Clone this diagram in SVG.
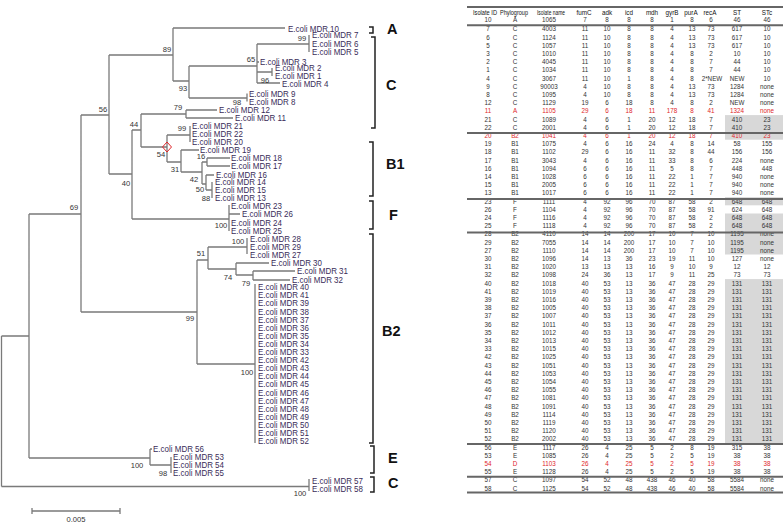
<svg xmlns="http://www.w3.org/2000/svg" width="784" height="523" viewBox="0 0 784 523">
<style>
.br{fill:none;stroke:#7a7a7a;stroke-width:1.3}
.lf{font-family:"Liberation Sans",Arial,sans-serif;font-size:8.8px;fill:#3a2d58}
.bs{font-family:"Liberation Sans",Arial,sans-serif;font-size:7.6px;fill:#333;text-anchor:middle}
.bk{fill:none;stroke:#222;stroke-width:1.5}
.gl{font-family:"Liberation Sans",Arial,sans-serif;font-size:14.5px;font-weight:bold;fill:#111}
.tb text{font-family:"Liberation Sans",Arial,sans-serif;font-size:6.3px;fill:#333;text-anchor:middle}
.tb .hd{fill:#111}
.tb .red{fill:#e0262a}
.rule{stroke:#666;stroke-width:2}
.sh{fill:#d8d8d8}
</style>
<rect width="784" height="523" fill="#fff"/>
<g id="connectors">
<path class="br" d="M1.5 336V486.5M1.5 336H29M1.5 486.5H309M29 214V458M29 214H81M29 458H150M81 115V312M81 115H109M81 312H197M109 55V174M109 55H173M109 174H132M173 28V81M173 28H285M173 81H189M189 66V98M189 66H257M189 98H247M247 93.5V101.5M257 44V83M257 44H309M257 62H259M257 72H272M257 83H280M309 35V52M272 68V76M132 130V219M132 130H141M132 219H229M141 114V147M141 114H186M141 147H167M186 110V118M186 110H217M186 118H233M167 135V162M167 135H190M167 162H181M190 126V142M181 150V172M181 150H199M181 172H202M202 162V184M202 162H207M202 184H206M207 158V166M207 158H230M207 166H230M206 175V190M206 175H214M206 190H212M212 182V198M229 205V231M229 214H240M197 260V364M197 260H208M197 364H255M208 247V269M208 247H247M208 269H236M247 238V254M236 263V275M236 263H269M236 275H253M253 271V280M253 271H295M253 280H290M255 284V443M150 449V465M150 449H152M150 465H171M171 457V473M309 479V491"/>
<polygon points="167,142 171.5,147 167,152 162.5,147" fill="none" stroke="#e0262a" stroke-width="1"/>
</g>
<g id="bootstrap">
<text class="bs" x="74" y="209.8">69</text>
<text class="bs" x="103" y="111.8">56</text>
<text class="bs" x="167" y="51.8">89</text>
<text class="bs" x="183" y="90.8">93</text>
<text class="bs" x="251" y="61.8">65</text>
<text class="bs" x="265" y="82.8">96</text>
<text class="bs" x="302" y="40.8">99</text>
<text class="bs" x="237" y="104.8">98</text>
<text class="bs" x="126" y="185.8">40</text>
<text class="bs" x="134" y="126.8">44</text>
<text class="bs" x="178" y="109.8">79</text>
<text class="bs" x="182" y="130.8">99</text>
<text class="bs" x="161" y="156.8">54</text>
<text class="bs" x="175" y="171.8">31</text>
<text class="bs" x="201" y="158.8">16</text>
<text class="bs" x="194" y="181.8">42</text>
<text class="bs" x="200" y="191.8">50</text>
<text class="bs" x="206" y="200.8">88</text>
<text class="bs" x="221" y="227.8">100</text>
<text class="bs" x="190" y="320.8">99</text>
<text class="bs" x="201" y="255.8">51</text>
<text class="bs" x="238" y="243.8">100</text>
<text class="bs" x="228" y="279.8">74</text>
<text class="bs" x="246" y="285.8">79</text>
<text class="bs" x="247" y="374.8">100</text>
<text class="bs" x="137" y="467.8">100</text>
<text class="bs" x="163" y="475.8">98</text>
<text class="bs" x="300" y="495.8">100</text>
</g>
<g id="leaves">
<g id="mdr10"><text class="lf" x="288" y="31.7" textLength="51" lengthAdjust="spacingAndGlyphs">E.coli MDR 10</text></g>
<g id="mdr7"><text class="lf" x="312" y="38.2" textLength="46.5" lengthAdjust="spacingAndGlyphs">E.coli MDR 7</text></g>
<g id="mdr6"><text class="lf" x="312" y="46.7" textLength="46.5" lengthAdjust="spacingAndGlyphs">E.coli MDR 6</text></g>
<g id="mdr5"><text class="lf" x="312" y="55.2" textLength="46.5" lengthAdjust="spacingAndGlyphs">E.coli MDR 5</text></g>
<g id="mdr3"><text class="lf" x="260" y="64.7" textLength="46.5" lengthAdjust="spacingAndGlyphs">E.coli MDR 3</text></g>
<g id="mdr2"><text class="lf" x="275" y="71.2" textLength="46.5" lengthAdjust="spacingAndGlyphs">E.coli MDR 2</text></g>
<g id="mdr1"><text class="lf" x="275" y="79.2" textLength="46.5" lengthAdjust="spacingAndGlyphs">E.coli MDR 1</text></g>
<g id="mdr4"><text class="lf" x="282" y="87.2" textLength="46.5" lengthAdjust="spacingAndGlyphs">E.coli MDR 4</text></g>
<g id="mdr9"><text class="lf" x="249" y="96.7" textLength="46.5" lengthAdjust="spacingAndGlyphs">E.coli MDR 9</text></g>
<g id="mdr8"><text class="lf" x="249" y="104.7" textLength="46.5" lengthAdjust="spacingAndGlyphs">E.coli MDR 8</text></g>
<g id="mdr12"><text class="lf" x="219" y="112.7" textLength="51" lengthAdjust="spacingAndGlyphs">E.coli MDR 12</text></g>
<g id="mdr11"><text class="lf" x="235" y="120.7" textLength="51" lengthAdjust="spacingAndGlyphs">E.coli MDR 11</text></g>
<g id="mdr21"><text class="lf" x="192" y="129.2" textLength="51" lengthAdjust="spacingAndGlyphs">E.coli MDR 21</text></g>
<g id="mdr22"><text class="lf" x="192" y="137.2" textLength="51" lengthAdjust="spacingAndGlyphs">E.coli MDR 22</text></g>
<g id="mdr20"><text class="lf" x="192" y="145.2" textLength="51" lengthAdjust="spacingAndGlyphs">E.coli MDR 20</text></g>
<g id="mdr19"><text class="lf" x="200" y="152.7" textLength="51" lengthAdjust="spacingAndGlyphs">E.coli MDR 19</text></g>
<g id="mdr18"><text class="lf" x="231" y="161.2" textLength="51" lengthAdjust="spacingAndGlyphs">E.coli MDR 18</text></g>
<g id="mdr17"><text class="lf" x="231" y="169.2" textLength="51" lengthAdjust="spacingAndGlyphs">E.coli MDR 17</text></g>
<g id="mdr16"><text class="lf" x="216" y="177.7" textLength="51" lengthAdjust="spacingAndGlyphs">E.coli MDR 16</text></g>
<g id="mdr14"><text class="lf" x="215" y="185.2" textLength="51" lengthAdjust="spacingAndGlyphs">E.coli MDR 14</text></g>
<g id="mdr15"><text class="lf" x="215" y="193.2" textLength="51" lengthAdjust="spacingAndGlyphs">E.coli MDR 15</text></g>
<g id="mdr13"><text class="lf" x="215" y="201.2" textLength="51" lengthAdjust="spacingAndGlyphs">E.coli MDR 13</text></g>
<g id="mdr23"><text class="lf" x="231" y="209.2" textLength="51" lengthAdjust="spacingAndGlyphs">E.coli MDR 23</text></g>
<g id="mdr26"><text class="lf" x="242" y="217.2" textLength="51" lengthAdjust="spacingAndGlyphs">E.coli MDR 26</text></g>
<g id="mdr24"><text class="lf" x="231" y="225.7" textLength="51" lengthAdjust="spacingAndGlyphs">E.coli MDR 24</text></g>
<g id="mdr25"><text class="lf" x="231" y="234.2" textLength="51" lengthAdjust="spacingAndGlyphs">E.coli MDR 25</text></g>
<g id="mdr28"><text class="lf" x="250" y="241.7" textLength="51" lengthAdjust="spacingAndGlyphs">E.coli MDR 28</text></g>
<g id="mdr29"><text class="lf" x="250" y="249.7" textLength="51" lengthAdjust="spacingAndGlyphs">E.coli MDR 29</text></g>
<g id="mdr27"><text class="lf" x="250" y="257.7" textLength="51" lengthAdjust="spacingAndGlyphs">E.coli MDR 27</text></g>
<g id="mdr30"><text class="lf" x="271" y="265.7" textLength="51" lengthAdjust="spacingAndGlyphs">E.coli MDR 30</text></g>
<g id="mdr31"><text class="lf" x="297" y="274.2" textLength="51" lengthAdjust="spacingAndGlyphs">E.coli MDR 31</text></g>
<g id="mdr32"><text class="lf" x="292" y="282.7" textLength="51" lengthAdjust="spacingAndGlyphs">E.coli MDR 32</text></g>
<g id="mdr40"><text class="lf" x="258" y="290.2" textLength="51" lengthAdjust="spacingAndGlyphs">E.coli MDR 40</text></g>
<g id="mdr41"><text class="lf" x="258" y="298.3" textLength="51" lengthAdjust="spacingAndGlyphs">E.coli MDR 41</text></g>
<g id="mdr39"><text class="lf" x="258" y="306.4" textLength="51" lengthAdjust="spacingAndGlyphs">E.coli MDR 39</text></g>
<g id="mdr38"><text class="lf" x="258" y="314.5" textLength="51" lengthAdjust="spacingAndGlyphs">E.coli MDR 38</text></g>
<g id="mdr37"><text class="lf" x="258" y="322.6" textLength="51" lengthAdjust="spacingAndGlyphs">E.coli MDR 37</text></g>
<g id="mdr36"><text class="lf" x="258" y="330.7" textLength="51" lengthAdjust="spacingAndGlyphs">E.coli MDR 36</text></g>
<g id="mdr35"><text class="lf" x="258" y="338.8" textLength="51" lengthAdjust="spacingAndGlyphs">E.coli MDR 35</text></g>
<g id="mdr34"><text class="lf" x="258" y="346.9" textLength="51" lengthAdjust="spacingAndGlyphs">E.coli MDR 34</text></g>
<g id="mdr33"><text class="lf" x="258" y="355" textLength="51" lengthAdjust="spacingAndGlyphs">E.coli MDR 33</text></g>
<g id="mdr42"><text class="lf" x="258" y="363.1" textLength="51" lengthAdjust="spacingAndGlyphs">E.coli MDR 42</text></g>
<g id="mdr43"><text class="lf" x="258" y="371.2" textLength="51" lengthAdjust="spacingAndGlyphs">E.coli MDR 43</text></g>
<g id="mdr44"><text class="lf" x="258" y="379.3" textLength="51" lengthAdjust="spacingAndGlyphs">E.coli MDR 44</text></g>
<g id="mdr45"><text class="lf" x="258" y="387.4" textLength="51" lengthAdjust="spacingAndGlyphs">E.coli MDR 45</text></g>
<g id="mdr46"><text class="lf" x="258" y="395.5" textLength="51" lengthAdjust="spacingAndGlyphs">E.coli MDR 46</text></g>
<g id="mdr47"><text class="lf" x="258" y="403.6" textLength="51" lengthAdjust="spacingAndGlyphs">E.coli MDR 47</text></g>
<g id="mdr48"><text class="lf" x="258" y="411.7" textLength="51" lengthAdjust="spacingAndGlyphs">E.coli MDR 48</text></g>
<g id="mdr49"><text class="lf" x="258" y="419.8" textLength="51" lengthAdjust="spacingAndGlyphs">E.coli MDR 49</text></g>
<g id="mdr50"><text class="lf" x="258" y="427.9" textLength="51" lengthAdjust="spacingAndGlyphs">E.coli MDR 50</text></g>
<g id="mdr51"><text class="lf" x="258" y="436" textLength="51" lengthAdjust="spacingAndGlyphs">E.coli MDR 51</text></g>
<g id="mdr52"><text class="lf" x="258" y="444.1" textLength="51" lengthAdjust="spacingAndGlyphs">E.coli MDR 52</text></g>
<g id="mdr56"><text class="lf" x="153" y="452.2" textLength="51" lengthAdjust="spacingAndGlyphs">E.coli MDR 56</text></g>
<g id="mdr53"><text class="lf" x="173" y="460.2" textLength="51" lengthAdjust="spacingAndGlyphs">E.coli MDR 53</text></g>
<g id="mdr54"><text class="lf" x="173" y="468.2" textLength="51" lengthAdjust="spacingAndGlyphs">E.coli MDR 54</text></g>
<g id="mdr55"><text class="lf" x="173" y="476.2" textLength="51" lengthAdjust="spacingAndGlyphs">E.coli MDR 55</text></g>
<g id="mdr57"><text class="lf" x="312" y="484.2" textLength="51" lengthAdjust="spacingAndGlyphs">E.coli MDR 57</text></g>
<g id="mdr58"><text class="lf" x="312" y="492.2" textLength="51" lengthAdjust="spacingAndGlyphs">E.coli MDR 58</text></g>
</g>
<g id="groups">
<path class="bk" d="M369 27H373V33H369M371 37H375V128H371M369 142H373V196H369M369 201H373V229H369M369 234H373V443H369M370 446H374V473H370M370 477H374V492H370"/>
<text class="gl" x="387" y="34">A</text>
<text class="gl" x="386" y="90">C</text>
<text class="gl" x="386" y="169">B1</text>
<text class="gl" x="389" y="220">F</text>
<text class="gl" x="382" y="336">B2</text>
<text class="gl" x="388" y="463">E</text>
<text class="gl" x="388" y="488">C</text>
</g>
<g id="scale">
<path class="br" d="M32 511H120M32 508V514M120 508V514"/>
<text class="bs" x="76" y="521.5">0.005</text>
</g>
<g id="table" class="tb">
<rect class="sh" x="725" y="115.1" width="58" height="24.6"/>
<rect class="sh" x="725" y="197.1" width="58" height="8.2"/>
<rect class="sh" x="725" y="213.5" width="58" height="41"/>
<rect class="sh" x="725" y="279.1" width="58" height="164"/>
<text class="hd" x="485" y="14.8" textLength="24" lengthAdjust="spacingAndGlyphs">Isolate ID</text>
<text class="hd" x="514" y="14.8" textLength="28" lengthAdjust="spacingAndGlyphs">Phylogroup</text>
<text class="hd" x="551" y="14.8" textLength="28" lengthAdjust="spacingAndGlyphs">Isolate name</text>
<text class="hd" x="584" y="14.8">fumC</text>
<text class="hd" x="607" y="14.8">adk</text>
<text class="hd" x="629" y="14.8">icd</text>
<text class="hd" x="652" y="14.8">mdh</text>
<text class="hd" x="672" y="14.8">gyrB</text>
<text class="hd" x="691" y="14.8">purA</text>
<text class="hd" x="710" y="14.8">recA</text>
<text class="hd" x="737" y="14.8">ST</text>
<text class="hd" x="767" y="14.8">STc</text>
<text y="21.8"><tspan x="488">10</tspan><tspan x="515">A</tspan><tspan x="549">1065</tspan><tspan x="585">7</tspan><tspan x="607">8</tspan><tspan x="629">8</tspan><tspan x="652">8</tspan><tspan x="672">1</tspan><tspan x="692">8</tspan><tspan x="711">6</tspan><tspan x="737">46</tspan><tspan x="767">46</tspan></text>
<text y="31.3"><tspan x="488">7</tspan><tspan x="515">C</tspan><tspan x="549">4003</tspan><tspan x="585">11</tspan><tspan x="607">10</tspan><tspan x="629">8</tspan><tspan x="652">8</tspan><tspan x="672">4</tspan><tspan x="692">13</tspan><tspan x="711">73</tspan><tspan x="737">617</tspan><tspan x="767">10</tspan></text>
<text y="39.5"><tspan x="488">6</tspan><tspan x="515">C</tspan><tspan x="549">1124</tspan><tspan x="585">11</tspan><tspan x="607">10</tspan><tspan x="629">8</tspan><tspan x="652">8</tspan><tspan x="672">4</tspan><tspan x="692">13</tspan><tspan x="711">73</tspan><tspan x="737">617</tspan><tspan x="767">10</tspan></text>
<text y="47.7"><tspan x="488">5</tspan><tspan x="515">C</tspan><tspan x="549">1057</tspan><tspan x="585">11</tspan><tspan x="607">10</tspan><tspan x="629">8</tspan><tspan x="652">8</tspan><tspan x="672">4</tspan><tspan x="692">13</tspan><tspan x="711">73</tspan><tspan x="737">617</tspan><tspan x="767">10</tspan></text>
<text y="55.9"><tspan x="488">3</tspan><tspan x="515">C</tspan><tspan x="549">1010</tspan><tspan x="585">11</tspan><tspan x="607">10</tspan><tspan x="629">8</tspan><tspan x="652">8</tspan><tspan x="672">4</tspan><tspan x="692">8</tspan><tspan x="711">2</tspan><tspan x="737">10</tspan><tspan x="767">10</tspan></text>
<text y="64.1"><tspan x="488">2</tspan><tspan x="515">C</tspan><tspan x="549">4045</tspan><tspan x="585">11</tspan><tspan x="607">10</tspan><tspan x="629">8</tspan><tspan x="652">8</tspan><tspan x="672">4</tspan><tspan x="692">8</tspan><tspan x="711">7</tspan><tspan x="737">44</tspan><tspan x="767">10</tspan></text>
<text y="72.3"><tspan x="488">1</tspan><tspan x="515">C</tspan><tspan x="549">1034</tspan><tspan x="585">11</tspan><tspan x="607">10</tspan><tspan x="629">8</tspan><tspan x="652">8</tspan><tspan x="672">4</tspan><tspan x="692">8</tspan><tspan x="711">7</tspan><tspan x="737">44</tspan><tspan x="767">10</tspan></text>
<text y="80.5"><tspan x="488">4</tspan><tspan x="515">C</tspan><tspan x="549">3067</tspan><tspan x="585">11</tspan><tspan x="607">10</tspan><tspan x="629">1</tspan><tspan x="652">8</tspan><tspan x="672">4</tspan><tspan x="692">8</tspan><tspan x="712">2*NEW</tspan><tspan x="737">NEW</tspan><tspan x="767">10</tspan></text>
<text y="88.7"><tspan x="488">9</tspan><tspan x="515">C</tspan><tspan x="549">90003</tspan><tspan x="585">4</tspan><tspan x="607">10</tspan><tspan x="629">8</tspan><tspan x="652">8</tspan><tspan x="672">4</tspan><tspan x="692">13</tspan><tspan x="711">73</tspan><tspan x="737">1284</tspan><tspan x="767">none</tspan></text>
<text y="96.9"><tspan x="488">8</tspan><tspan x="515">C</tspan><tspan x="549">1095</tspan><tspan x="585">4</tspan><tspan x="607">10</tspan><tspan x="629">8</tspan><tspan x="652">8</tspan><tspan x="672">4</tspan><tspan x="692">13</tspan><tspan x="711">73</tspan><tspan x="737">1284</tspan><tspan x="767">none</tspan></text>
<text y="105.1"><tspan x="488">12</tspan><tspan x="515">C</tspan><tspan x="549">1129</tspan><tspan x="585">19</tspan><tspan x="607">6</tspan><tspan x="629">18</tspan><tspan x="652">8</tspan><tspan x="672">4</tspan><tspan x="692">8</tspan><tspan x="711">2</tspan><tspan x="737">NEW</tspan><tspan x="767">none</tspan></text>
<text class="red" y="113.3"><tspan x="488">11</tspan><tspan x="515">A</tspan><tspan x="549">1105</tspan><tspan x="585">29</tspan><tspan x="607">6</tspan><tspan x="629">18</tspan><tspan x="652">11</tspan><tspan x="672">178</tspan><tspan x="692">8</tspan><tspan x="711">41</tspan><tspan x="737">1324</tspan><tspan x="767">none</tspan></text>
<text y="121.5"><tspan x="488">21</tspan><tspan x="515">C</tspan><tspan x="549">1089</tspan><tspan x="585">4</tspan><tspan x="607">6</tspan><tspan x="629">1</tspan><tspan x="652">20</tspan><tspan x="672">12</tspan><tspan x="692">18</tspan><tspan x="711">7</tspan><tspan x="737">410</tspan><tspan x="767">23</tspan></text>
<text y="129.7"><tspan x="488">22</tspan><tspan x="515">C</tspan><tspan x="549">2001</tspan><tspan x="585">4</tspan><tspan x="607">6</tspan><tspan x="629">1</tspan><tspan x="652">20</tspan><tspan x="672">12</tspan><tspan x="692">18</tspan><tspan x="711">7</tspan><tspan x="737">410</tspan><tspan x="767">23</tspan></text>
<text class="red" y="137.9"><tspan x="488">20</tspan><tspan x="515">B2</tspan><tspan x="549">1041</tspan><tspan x="585">4</tspan><tspan x="607">6</tspan><tspan x="629">1</tspan><tspan x="652">20</tspan><tspan x="672">12</tspan><tspan x="692">18</tspan><tspan x="711">7</tspan><tspan x="737">410</tspan><tspan x="767">23</tspan></text>
<text y="146.1"><tspan x="488">19</tspan><tspan x="515">B1</tspan><tspan x="549">1075</tspan><tspan x="585">4</tspan><tspan x="607">6</tspan><tspan x="629">16</tspan><tspan x="652">24</tspan><tspan x="672">4</tspan><tspan x="692">8</tspan><tspan x="711">14</tspan><tspan x="737">58</tspan><tspan x="767">155</tspan></text>
<text y="154.3"><tspan x="488">18</tspan><tspan x="515">B1</tspan><tspan x="549">1102</tspan><tspan x="585">29</tspan><tspan x="607">6</tspan><tspan x="629">16</tspan><tspan x="652">11</tspan><tspan x="672">32</tspan><tspan x="692">8</tspan><tspan x="711">44</tspan><tspan x="737">156</tspan><tspan x="767">156</tspan></text>
<text y="162.5"><tspan x="488">17</tspan><tspan x="515">B1</tspan><tspan x="549">3043</tspan><tspan x="585">4</tspan><tspan x="607">6</tspan><tspan x="629">16</tspan><tspan x="652">11</tspan><tspan x="672">33</tspan><tspan x="692">8</tspan><tspan x="711">6</tspan><tspan x="737">224</tspan><tspan x="767">none</tspan></text>
<text y="170.7"><tspan x="488">16</tspan><tspan x="515">B1</tspan><tspan x="549">1094</tspan><tspan x="585">6</tspan><tspan x="607">6</tspan><tspan x="629">16</tspan><tspan x="652">11</tspan><tspan x="672">5</tspan><tspan x="692">8</tspan><tspan x="711">7</tspan><tspan x="737">448</tspan><tspan x="767">448</tspan></text>
<text y="178.9"><tspan x="488">14</tspan><tspan x="515">B1</tspan><tspan x="549">1028</tspan><tspan x="585">6</tspan><tspan x="607">6</tspan><tspan x="629">16</tspan><tspan x="652">11</tspan><tspan x="672">22</tspan><tspan x="692">1</tspan><tspan x="711">7</tspan><tspan x="737">940</tspan><tspan x="767">none</tspan></text>
<text y="187.1"><tspan x="488">15</tspan><tspan x="515">B1</tspan><tspan x="549">2005</tspan><tspan x="585">6</tspan><tspan x="607">6</tspan><tspan x="629">16</tspan><tspan x="652">11</tspan><tspan x="672">22</tspan><tspan x="692">1</tspan><tspan x="711">7</tspan><tspan x="737">940</tspan><tspan x="767">none</tspan></text>
<text y="195.3"><tspan x="488">13</tspan><tspan x="515">B1</tspan><tspan x="549">1017</tspan><tspan x="585">6</tspan><tspan x="607">6</tspan><tspan x="629">16</tspan><tspan x="652">11</tspan><tspan x="672">22</tspan><tspan x="692">1</tspan><tspan x="711">7</tspan><tspan x="737">940</tspan><tspan x="767">none</tspan></text>
<text y="203.5"><tspan x="488">23</tspan><tspan x="515">F</tspan><tspan x="549">1111</tspan><tspan x="585">4</tspan><tspan x="607">92</tspan><tspan x="629">96</tspan><tspan x="652">70</tspan><tspan x="672">87</tspan><tspan x="692">58</tspan><tspan x="711">2</tspan><tspan x="737">648</tspan><tspan x="767">648</tspan></text>
<text y="211.7"><tspan x="488">26</tspan><tspan x="515">F</tspan><tspan x="549">1104</tspan><tspan x="585">4</tspan><tspan x="607">92</tspan><tspan x="629">96</tspan><tspan x="652">70</tspan><tspan x="672">87</tspan><tspan x="692">58</tspan><tspan x="711">91</tspan><tspan x="737">624</tspan><tspan x="767">648</tspan></text>
<text y="219.9"><tspan x="488">24</tspan><tspan x="515">F</tspan><tspan x="549">1116</tspan><tspan x="585">4</tspan><tspan x="607">92</tspan><tspan x="629">96</tspan><tspan x="652">70</tspan><tspan x="672">87</tspan><tspan x="692">58</tspan><tspan x="711">2</tspan><tspan x="737">648</tspan><tspan x="767">648</tspan></text>
<text y="228.1"><tspan x="488">25</tspan><tspan x="515">F</tspan><tspan x="549">1118</tspan><tspan x="585">4</tspan><tspan x="607">92</tspan><tspan x="629">96</tspan><tspan x="652">70</tspan><tspan x="672">87</tspan><tspan x="692">58</tspan><tspan x="711">2</tspan><tspan x="737">648</tspan><tspan x="767">648</tspan></text>
<text y="236.3"><tspan x="488">28</tspan><tspan x="515">B2</tspan><tspan x="549">4110</tspan><tspan x="585">14</tspan><tspan x="607">14</tspan><tspan x="629">200</tspan><tspan x="652">17</tspan><tspan x="672">10</tspan><tspan x="692">7</tspan><tspan x="711">10</tspan><tspan x="737">1195</tspan><tspan x="767">none</tspan></text>
<text y="244.5"><tspan x="488">29</tspan><tspan x="515">B2</tspan><tspan x="549">7055</tspan><tspan x="585">14</tspan><tspan x="607">14</tspan><tspan x="629">200</tspan><tspan x="652">17</tspan><tspan x="672">10</tspan><tspan x="692">7</tspan><tspan x="711">10</tspan><tspan x="737">1195</tspan><tspan x="767">none</tspan></text>
<text y="252.7"><tspan x="488">27</tspan><tspan x="515">B2</tspan><tspan x="549">1110</tspan><tspan x="585">14</tspan><tspan x="607">14</tspan><tspan x="629">200</tspan><tspan x="652">17</tspan><tspan x="672">10</tspan><tspan x="692">7</tspan><tspan x="711">10</tspan><tspan x="737">1195</tspan><tspan x="767">none</tspan></text>
<text y="260.9"><tspan x="488">30</tspan><tspan x="515">B2</tspan><tspan x="549">1096</tspan><tspan x="585">14</tspan><tspan x="607">13</tspan><tspan x="629">36</tspan><tspan x="652">23</tspan><tspan x="672">19</tspan><tspan x="692">11</tspan><tspan x="711">10</tspan><tspan x="737">127</tspan><tspan x="767">none</tspan></text>
<text y="269.1"><tspan x="488">31</tspan><tspan x="515">B2</tspan><tspan x="549">1020</tspan><tspan x="585">13</tspan><tspan x="607">13</tspan><tspan x="629">13</tspan><tspan x="652">16</tspan><tspan x="672">9</tspan><tspan x="692">10</tspan><tspan x="711">9</tspan><tspan x="737">12</tspan><tspan x="767">12</tspan></text>
<text y="277.3"><tspan x="488">32</tspan><tspan x="515">B2</tspan><tspan x="549">1098</tspan><tspan x="585">24</tspan><tspan x="607">36</tspan><tspan x="629">13</tspan><tspan x="652">17</tspan><tspan x="672">9</tspan><tspan x="692">11</tspan><tspan x="711">25</tspan><tspan x="737">73</tspan><tspan x="767">73</tspan></text>
<text y="285.5"><tspan x="488">40</tspan><tspan x="515">B2</tspan><tspan x="549">1018</tspan><tspan x="585">40</tspan><tspan x="607">53</tspan><tspan x="629">13</tspan><tspan x="652">36</tspan><tspan x="672">47</tspan><tspan x="692">28</tspan><tspan x="711">29</tspan><tspan x="737">131</tspan><tspan x="767">131</tspan></text>
<text y="293.7"><tspan x="488">41</tspan><tspan x="515">B2</tspan><tspan x="549">1019</tspan><tspan x="585">40</tspan><tspan x="607">53</tspan><tspan x="629">13</tspan><tspan x="652">36</tspan><tspan x="672">47</tspan><tspan x="692">28</tspan><tspan x="711">29</tspan><tspan x="737">131</tspan><tspan x="767">131</tspan></text>
<text y="301.9"><tspan x="488">39</tspan><tspan x="515">B2</tspan><tspan x="549">1016</tspan><tspan x="585">40</tspan><tspan x="607">53</tspan><tspan x="629">13</tspan><tspan x="652">36</tspan><tspan x="672">47</tspan><tspan x="692">28</tspan><tspan x="711">29</tspan><tspan x="737">131</tspan><tspan x="767">131</tspan></text>
<text y="310.1"><tspan x="488">38</tspan><tspan x="515">B2</tspan><tspan x="549">1005</tspan><tspan x="585">40</tspan><tspan x="607">53</tspan><tspan x="629">13</tspan><tspan x="652">36</tspan><tspan x="672">47</tspan><tspan x="692">28</tspan><tspan x="711">29</tspan><tspan x="737">131</tspan><tspan x="767">131</tspan></text>
<text y="318.3"><tspan x="488">37</tspan><tspan x="515">B2</tspan><tspan x="549">1007</tspan><tspan x="585">40</tspan><tspan x="607">53</tspan><tspan x="629">13</tspan><tspan x="652">36</tspan><tspan x="672">47</tspan><tspan x="692">28</tspan><tspan x="711">29</tspan><tspan x="737">131</tspan><tspan x="767">131</tspan></text>
<text y="326.5"><tspan x="488">36</tspan><tspan x="515">B2</tspan><tspan x="549">1011</tspan><tspan x="585">40</tspan><tspan x="607">53</tspan><tspan x="629">13</tspan><tspan x="652">36</tspan><tspan x="672">47</tspan><tspan x="692">28</tspan><tspan x="711">29</tspan><tspan x="737">131</tspan><tspan x="767">131</tspan></text>
<text y="334.7"><tspan x="488">35</tspan><tspan x="515">B2</tspan><tspan x="549">1012</tspan><tspan x="585">40</tspan><tspan x="607">53</tspan><tspan x="629">13</tspan><tspan x="652">36</tspan><tspan x="672">47</tspan><tspan x="692">28</tspan><tspan x="711">29</tspan><tspan x="737">131</tspan><tspan x="767">131</tspan></text>
<text y="342.9"><tspan x="488">34</tspan><tspan x="515">B2</tspan><tspan x="549">1013</tspan><tspan x="585">40</tspan><tspan x="607">53</tspan><tspan x="629">13</tspan><tspan x="652">36</tspan><tspan x="672">47</tspan><tspan x="692">28</tspan><tspan x="711">29</tspan><tspan x="737">131</tspan><tspan x="767">131</tspan></text>
<text y="351.1"><tspan x="488">33</tspan><tspan x="515">B2</tspan><tspan x="549">1015</tspan><tspan x="585">40</tspan><tspan x="607">53</tspan><tspan x="629">13</tspan><tspan x="652">36</tspan><tspan x="672">47</tspan><tspan x="692">28</tspan><tspan x="711">29</tspan><tspan x="737">131</tspan><tspan x="767">131</tspan></text>
<text y="359.3"><tspan x="488">42</tspan><tspan x="515">B2</tspan><tspan x="549">1025</tspan><tspan x="585">40</tspan><tspan x="607">53</tspan><tspan x="629">13</tspan><tspan x="652">36</tspan><tspan x="672">47</tspan><tspan x="692">28</tspan><tspan x="711">29</tspan><tspan x="737">131</tspan><tspan x="767">131</tspan></text>
<text y="367.5"><tspan x="488">43</tspan><tspan x="515">B2</tspan><tspan x="549">1051</tspan><tspan x="585">40</tspan><tspan x="607">53</tspan><tspan x="629">13</tspan><tspan x="652">36</tspan><tspan x="672">47</tspan><tspan x="692">28</tspan><tspan x="711">29</tspan><tspan x="737">131</tspan><tspan x="767">131</tspan></text>
<text y="375.7"><tspan x="488">44</tspan><tspan x="515">B2</tspan><tspan x="549">1053</tspan><tspan x="585">40</tspan><tspan x="607">53</tspan><tspan x="629">13</tspan><tspan x="652">36</tspan><tspan x="672">47</tspan><tspan x="692">28</tspan><tspan x="711">29</tspan><tspan x="737">131</tspan><tspan x="767">131</tspan></text>
<text y="383.9"><tspan x="488">45</tspan><tspan x="515">B2</tspan><tspan x="549">1054</tspan><tspan x="585">40</tspan><tspan x="607">53</tspan><tspan x="629">13</tspan><tspan x="652">36</tspan><tspan x="672">47</tspan><tspan x="692">28</tspan><tspan x="711">29</tspan><tspan x="737">131</tspan><tspan x="767">131</tspan></text>
<text y="392.1"><tspan x="488">46</tspan><tspan x="515">B2</tspan><tspan x="549">1055</tspan><tspan x="585">40</tspan><tspan x="607">53</tspan><tspan x="629">13</tspan><tspan x="652">36</tspan><tspan x="672">47</tspan><tspan x="692">28</tspan><tspan x="711">29</tspan><tspan x="737">131</tspan><tspan x="767">131</tspan></text>
<text y="400.3"><tspan x="488">47</tspan><tspan x="515">B2</tspan><tspan x="549">1081</tspan><tspan x="585">40</tspan><tspan x="607">53</tspan><tspan x="629">13</tspan><tspan x="652">36</tspan><tspan x="672">47</tspan><tspan x="692">28</tspan><tspan x="711">29</tspan><tspan x="737">131</tspan><tspan x="767">131</tspan></text>
<text y="408.5"><tspan x="488">48</tspan><tspan x="515">B2</tspan><tspan x="549">1091</tspan><tspan x="585">40</tspan><tspan x="607">53</tspan><tspan x="629">13</tspan><tspan x="652">36</tspan><tspan x="672">47</tspan><tspan x="692">28</tspan><tspan x="711">29</tspan><tspan x="737">131</tspan><tspan x="767">131</tspan></text>
<text y="416.7"><tspan x="488">49</tspan><tspan x="515">B2</tspan><tspan x="549">1114</tspan><tspan x="585">40</tspan><tspan x="607">53</tspan><tspan x="629">13</tspan><tspan x="652">36</tspan><tspan x="672">47</tspan><tspan x="692">28</tspan><tspan x="711">29</tspan><tspan x="737">131</tspan><tspan x="767">131</tspan></text>
<text y="424.9"><tspan x="488">50</tspan><tspan x="515">B2</tspan><tspan x="549">1119</tspan><tspan x="585">40</tspan><tspan x="607">53</tspan><tspan x="629">13</tspan><tspan x="652">36</tspan><tspan x="672">47</tspan><tspan x="692">28</tspan><tspan x="711">29</tspan><tspan x="737">131</tspan><tspan x="767">131</tspan></text>
<text y="433.1"><tspan x="488">51</tspan><tspan x="515">B2</tspan><tspan x="549">1120</tspan><tspan x="585">40</tspan><tspan x="607">53</tspan><tspan x="629">13</tspan><tspan x="652">36</tspan><tspan x="672">47</tspan><tspan x="692">28</tspan><tspan x="711">29</tspan><tspan x="737">131</tspan><tspan x="767">131</tspan></text>
<text y="441.3"><tspan x="488">52</tspan><tspan x="515">B2</tspan><tspan x="549">2002</tspan><tspan x="585">40</tspan><tspan x="607">53</tspan><tspan x="629">13</tspan><tspan x="652">36</tspan><tspan x="672">47</tspan><tspan x="692">28</tspan><tspan x="711">29</tspan><tspan x="737">131</tspan><tspan x="767">131</tspan></text>
<text y="449.5"><tspan x="488">56</tspan><tspan x="515">E</tspan><tspan x="549">1117</tspan><tspan x="585">26</tspan><tspan x="607">4</tspan><tspan x="629">25</tspan><tspan x="652">5</tspan><tspan x="672">2</tspan><tspan x="692">8</tspan><tspan x="711">19</tspan><tspan x="737">315</tspan><tspan x="767">38</tspan></text>
<text y="457.7"><tspan x="488">53</tspan><tspan x="515">E</tspan><tspan x="549">1085</tspan><tspan x="585">26</tspan><tspan x="607">4</tspan><tspan x="629">25</tspan><tspan x="652">5</tspan><tspan x="672">2</tspan><tspan x="692">5</tspan><tspan x="711">19</tspan><tspan x="737">38</tspan><tspan x="767">38</tspan></text>
<text class="red" y="465.9"><tspan x="488">54</tspan><tspan x="515">D</tspan><tspan x="549">1103</tspan><tspan x="585">26</tspan><tspan x="607">4</tspan><tspan x="629">25</tspan><tspan x="652">5</tspan><tspan x="672">2</tspan><tspan x="692">5</tspan><tspan x="711">19</tspan><tspan x="737">38</tspan><tspan x="767">38</tspan></text>
<text y="474.1"><tspan x="488">55</tspan><tspan x="515">E</tspan><tspan x="549">1128</tspan><tspan x="585">26</tspan><tspan x="607">4</tspan><tspan x="629">25</tspan><tspan x="652">5</tspan><tspan x="672">2</tspan><tspan x="692">5</tspan><tspan x="711">19</tspan><tspan x="737">38</tspan><tspan x="767">38</tspan></text>
<text y="482.3"><tspan x="488">57</tspan><tspan x="515">C</tspan><tspan x="549">1097</tspan><tspan x="585">54</tspan><tspan x="607">52</tspan><tspan x="629">48</tspan><tspan x="652">438</tspan><tspan x="672">46</tspan><tspan x="692">40</tspan><tspan x="711">58</tspan><tspan x="737">5584</tspan><tspan x="767">none</tspan></text>
<text y="490.5"><tspan x="488">58</tspan><tspan x="515">C</tspan><tspan x="549">1125</tspan><tspan x="585">54</tspan><tspan x="607">52</tspan><tspan x="629">48</tspan><tspan x="652">438</tspan><tspan x="672">46</tspan><tspan x="692">40</tspan><tspan x="711">58</tspan><tspan x="737">5584</tspan><tspan x="767">none</tspan></text>
<path class="rule" d="M467 7H783M467 25.3H783M467 133H783M467 199H783M467 232.5H783M467 444H783M467 476.7H783M467 492.5H783"/>
</g>
</svg>
